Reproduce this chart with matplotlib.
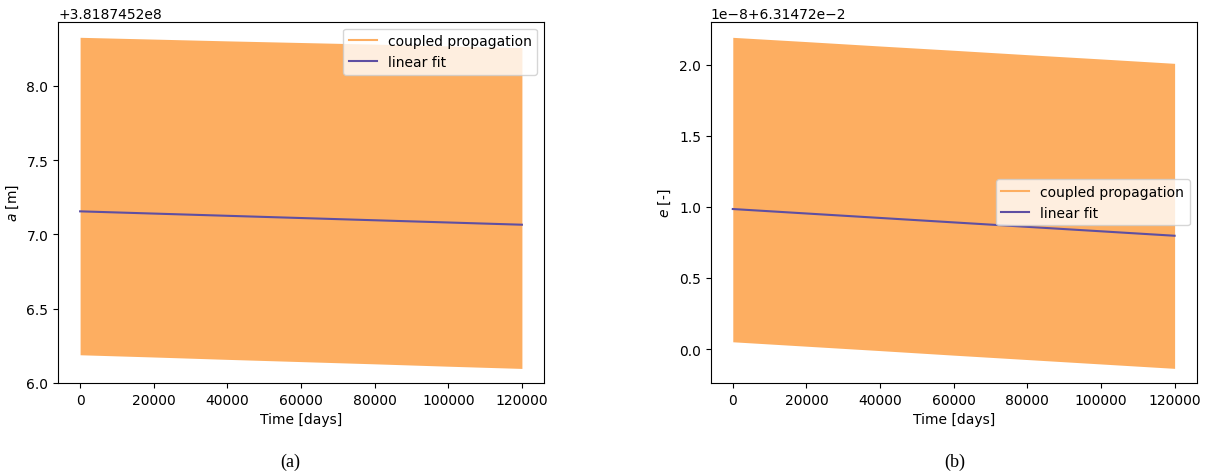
import matplotlib
matplotlib.use("Agg")
import matplotlib.pyplot as plt
from matplotlib.lines import Line2D
import numpy as np

# ---- data ----
time_days = [0, 20000, 40000, 60000, 80000, 100000, 120000]

a_offset = 3.8187452e8
a_upper = [8.326, 8.314, 8.302, 8.291, 8.280, 8.268, 8.257]
a_lower = [6.190, 6.175, 6.159, 6.144, 6.129, 6.113, 6.098]
a_fit = [7.155, 7.065]

e_offset = 6.31472e-2
e_scale = 1e-8
e_upper = [2.193, 2.163, 2.132, 2.102, 2.071, 2.041, 2.010]
e_lower = [0.051, 0.020, -0.011, -0.043, -0.074, -0.105, -0.136]
e_fit = [0.985, 0.797]

fit_t = [time_days[0], time_days[-1]]

ORANGE = "#fdae61"
PURPLE = "#5e4fa2"

fig = plt.figure(figsize=(12.08, 4.77), dpi=100)
ax1 = fig.add_axes([58 / 1208, 1 - 384 / 477, (544 - 58) / 1208, (384 - 22.7) / 477])
ax2 = fig.add_axes([710.7 / 1208, 1 - 384 / 477, (1196.7 - 710.7) / 1208, (384 - 22.7) / 477])

def draw(ax, upper, lower, fit, off, scale, ylabel, loc, ylim):
    t = np.asarray(time_days)
    up = off + scale * np.asarray(upper)
    lo = off + scale * np.asarray(lower)
    ax.fill_between(t, lo, up, color=ORANGE, linewidth=0)
    ax.plot(fit_t, off + scale * np.asarray(fit), color=PURPLE, lw=1.5)
    handles = [Line2D([], [], color=ORANGE, lw=1.5), Line2D([], [], color=PURPLE, lw=1.5)]
    ax.legend(handles, ["coupled propagation", "linear fit"], loc=loc)
    ax.set_xlabel("Time [days]")
    ax.set_ylabel(ylabel)
    ax.set_xticks([0, 20000, 40000, 60000, 80000, 100000, 120000])
    ax.set_xlim(-6000, 126000)
    ax.set_ylim(off + scale * ylim[0], off + scale * ylim[1])

draw(ax1, a_upper, a_lower, a_fit, a_offset, 1.0, "$a$ [m]", "upper right", (6.0, 8.431))
draw(ax2, e_upper, e_lower, e_fit, e_offset, e_scale, "$e$ [-]", "center right", (-0.239, 2.303))
ax1.set_yticks(a_offset + np.array([6.0, 6.5, 7.0, 7.5, 8.0]))
ax2.set_yticks(e_offset + e_scale * np.array([0.0, 0.5, 1.0, 1.5, 2.0]))

fig.text(290 / 1208, 1 - 462 / 477, "(a)", family="Liberation Serif", fontsize=13, ha="center", va="center")
fig.text(955 / 1208, 1 - 462 / 477, "(b)", family="Liberation Serif", fontsize=13, ha="center", va="center")

fig.savefig("out.png", dpi=100)
